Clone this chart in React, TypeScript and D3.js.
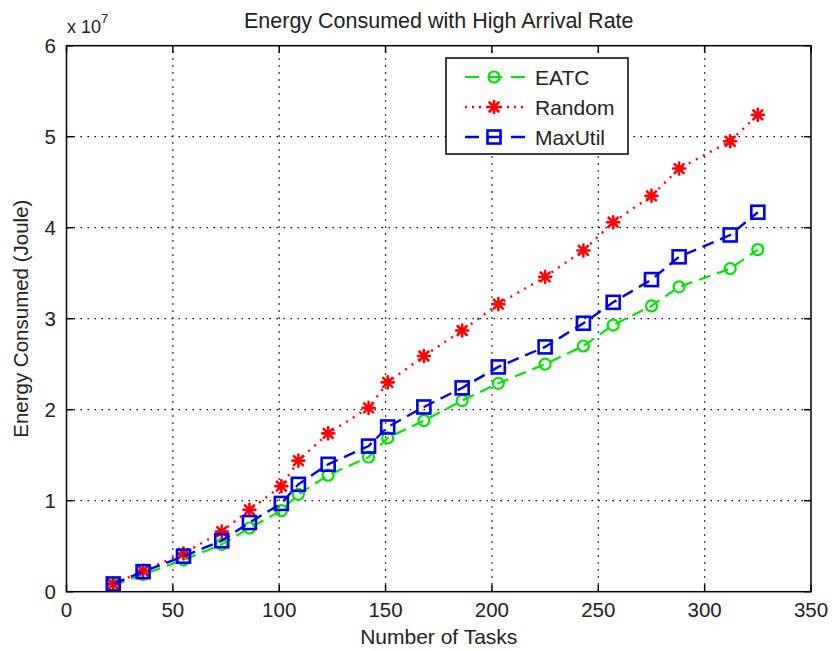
import React from "react";
import * as d3 from "d3";

const taskCounts = [22, 36, 55, 73, 86, 101, 109, 123, 142, 151, 168, 186, 203, 225, 243, 257, 275, 288, 312, 325];
const eatcValues = [0.07, 0.19, 0.35, 0.52, 0.70, 0.89, 1.07, 1.28, 1.48, 1.69, 1.88, 2.10, 2.29, 2.50, 2.70, 2.93, 3.14, 3.35, 3.55, 3.76];
const randomValues = [0.08, 0.23, 0.42, 0.66, 0.90, 1.16, 1.44, 1.74, 2.02, 2.30, 2.59, 2.87, 3.16, 3.46, 3.75, 4.06, 4.35, 4.65, 4.95, 5.24];
const maxUtilValues = [0.085, 0.22, 0.39, 0.56, 0.76, 0.97, 1.18, 1.40, 1.60, 1.81, 2.03, 2.24, 2.47, 2.69, 2.95, 3.18, 3.43, 3.68, 3.92, 4.17];
const xTicks = [0, 50, 100, 150, 200, 250, 300, 350];
const yTicks = [0, 1, 2, 3, 4, 5, 6];
const seriesNames = ["EATC", "Random", "MaxUtil"];

const W = 832, H = 651;
const L = 66.5, R = 811, T = 45.7, B = 591.7;
const FONT = "'Liberation Sans', Arial, sans-serif";

const GREEN = "#00e600";
const RED = "#ff0000";
const BLUE = "#0000ee";

type Kind = "circle" | "star" | "square";

function Marker({ x, y, kind, color }: { x: number; y: number; kind: Kind; color: string }) {
  if (kind === "circle") return <circle cx={x} cy={y} r={5.5} fill="none" stroke={color} strokeWidth={2.2} />;
  if (kind === "square") return <rect x={x - 6.5} y={y - 6.5} width={13} height={13} fill="none" stroke={color} strokeWidth={2.6} />;
  const s = 6;
  const d = 4.5;
  return (
    <g stroke={color} strokeWidth={2.6} strokeLinecap="round">
      <line x1={x - s} y1={y} x2={x + s} y2={y} />
      <line x1={x} y1={y - s} x2={x} y2={y + s} />
      <line x1={x - d} y1={y - d} x2={x + d} y2={y + d} />
      <line x1={x - d} y1={y + d} x2={x + d} y2={y - d} />
    </g>
  );
}

export default function App() {
  const x = d3.scaleLinear().domain([0, 350]).range([L, R]);
  const y = d3.scaleLinear().domain([0, 6]).range([B, T]);
  const line = d3.line<[number, number]>().x((d) => x(d[0])).y((d) => y(d[1]));

  const series = [
    { name: seriesNames[0], values: eatcValues, color: GREEN, dash: "12,7", kind: "circle" as Kind, width: 2.2 },
    { name: seriesNames[1], values: randomValues, color: RED, dash: "2,6", kind: "star" as Kind, width: 2.4 },
    { name: seriesNames[2], values: maxUtilValues, color: BLUE, dash: "12,7", kind: "square" as Kind, width: 2.4 },
  ];

  const legend = { x0: 446, y0: 58, x1: 628, y1: 154 };
  const rowY = [77, 107, 137];

  return (
    <svg width={W} height={H} style={{ position: "absolute", left: 0, top: 0, background: "#fff" }} fontFamily={FONT}>
      <rect x={0} y={0} width={W} height={H} fill="#fff" />
      {/* grid */}
      <g stroke="#000" strokeWidth={1.3} strokeDasharray="1.5,5.5">
        {xTicks.slice(1, -1).map((t) => (
          <line key={"gx" + t} x1={x(t)} x2={x(t)} y1={B} y2={T} />
        ))}
        {yTicks.slice(1, -1).map((t) => (
          <line key={"gy" + t} x1={L} x2={R} y1={y(t)} y2={y(t)} />
        ))}
      </g>
      {/* series */}
      {series.map((s) => {
        const pts = taskCounts.map((t, i) => [t, s.values[i]] as [number, number]);
        return (
          <g key={s.name}>
            <path d={line(pts) || ""} fill="none" stroke={s.color} strokeWidth={s.width} strokeDasharray={s.dash} />
            {pts.map((p, i) => (
              <Marker key={i} x={x(p[0])} y={y(p[1])} kind={s.kind} color={s.color} />
            ))}
          </g>
        );
      })}
      {/* axes box */}
      <rect x={L} y={T} width={R - L} height={B - T} fill="none" stroke="#000" strokeWidth={1.5} />
      <g stroke="#000" strokeWidth={1.5}>
        {xTicks.map((t) => (
          <g key={"tx" + t}>
            <line x1={x(t)} x2={x(t)} y1={B} y2={B - 7} />
            <line x1={x(t)} x2={x(t)} y1={T} y2={T + 7} />
          </g>
        ))}
        {yTicks.map((t) => (
          <g key={"ty" + t}>
            <line x1={L} x2={L + 7} y1={y(t)} y2={y(t)} />
            <line x1={R} x2={R - 7} y1={y(t)} y2={y(t)} />
          </g>
        ))}
      </g>
      {/* tick labels */}
      <g fontSize={20.5} fill="#222">
        {xTicks.map((t) => (
          <text key={"lx" + t} x={x(t)} y={617} textAnchor="middle">{t}</text>
        ))}
        {yTicks.map((t) => (
          <text key={"ly" + t} x={56} y={y(t) + 7.5} textAnchor="end">{t}</text>
        ))}
      </g>
      {/* exponent */}
      <text x={67} y={33} fontSize={18} fill="#222">
        x 10<tspan dy={-10} fontSize={13}>7</tspan>
      </text>
      {/* title & labels */}
      <text x={(L + R) / 2} y={28} textAnchor="middle" fontSize={21.5} fill="#222">Energy Consumed with High Arrival Rate</text>
      <text x={(L + R) / 2} y={644} textAnchor="middle" fontSize={21} fill="#222">Number of Tasks</text>
      <text transform={`translate(28,${(T + B) / 2}) rotate(-90)`} textAnchor="middle" fontSize={20.5} fill="#222">Energy Consumed (Joule)</text>
      {/* legend */}
      <rect x={legend.x0} y={legend.y0} width={legend.x1 - legend.x0} height={legend.y1 - legend.y0} fill="#fff" stroke="#000" strokeWidth={1.5} />
      {series.map((s, i) => (
        <g key={"leg" + s.name}>
          <line x1={465} x2={528} y1={rowY[i]} y2={rowY[i]} stroke={s.color} strokeWidth={s.width} strokeDasharray={s.dash === "2,6" ? "2,5" : "14,9"} />
          <Marker x={494} y={rowY[i]} kind={s.kind} color={s.color} />
          <text x={535} y={rowY[i] + 7.5} fontSize={21} fill="#222">{s.name}</text>
        </g>
      ))}
    </svg>
  );
}
